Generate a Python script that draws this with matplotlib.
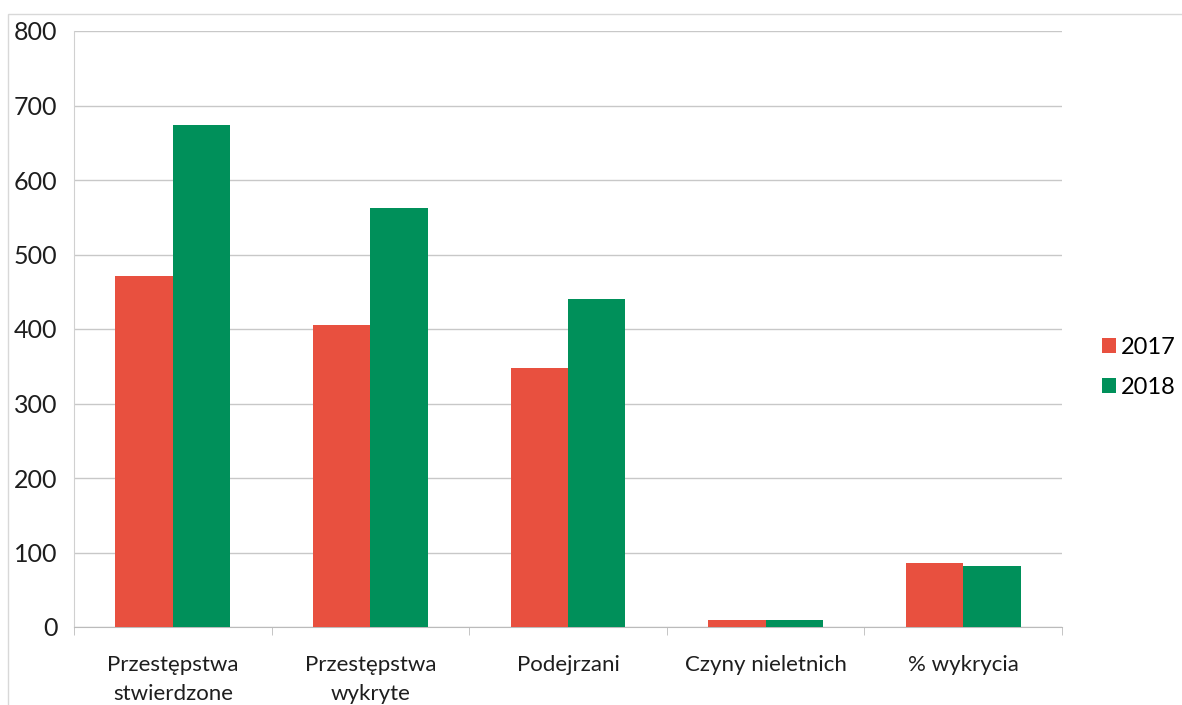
import numpy as np
import matplotlib.pyplot as plt

categories = ["Przestępstwa\nstwierdzone", "Przestępstwa\nwykryte", "Podejrzani",
              "Czyny nieletnich", "% wykrycia"]
values_2017 = [471, 405, 348, 10, 86]
values_2018 = [674, 562, 440, 9, 82]
series_names = ["2017", "2018"]
yticks = [0, 100, 200, 300, 400, 500, 600, 700, 800]

red = "#E8503F"
green = "#00905A"
txt = "#1e1e1e"

plt.rcParams['font.family'] = ['Lato', 'DejaVu Sans']

fig = plt.figure(figsize=(11.82, 7.05), dpi=100)
ax = fig.add_axes([74 / 1182, 1 - 627 / 705, (1062 - 74) / 1182, (627 - 31) / 705])

x = np.arange(len(categories))
w = 0.29
ax.bar(x - w / 2, values_2017, w, color=red, label=series_names[0], zorder=3)
ax.bar(x + w / 2, values_2018, w, color=green, label=series_names[1], zorder=3)

ax.set_xlim(-0.5, len(categories) - 0.5)
ax.set_ylim(0, 800)
ax.set_yticks(yticks)
ax.set_yticklabels([str(v) for v in yticks], fontsize=18, color=txt)
ax.yaxis.grid(True, color="#c8c8c8", linewidth=1, zorder=0)
ax.tick_params(axis='y', length=0, pad=12)

ax.set_xticks(x)
ax.set_xticklabels(categories, fontsize=16, color=txt, linespacing=1.6)
ax.tick_params(axis='x', length=0, pad=20)
# tick marks between categories
ax.set_xticks(np.arange(len(categories) + 1) - 0.5, minor=True)
ax.tick_params(axis='x', which='minor', length=6, color="#bbbbbb", direction='out')

for s in ['top', 'right']:
    ax.spines[s].set_visible(False)
ax.spines['left'].set_color("#d0d0d0")
ax.spines['bottom'].set_color("#bbbbbb")

leg = ax.legend(loc='center left', bbox_to_anchor=(1.019, 0.435), frameon=False,
                fontsize=17, handlelength=0.6, handleheight=0.6, handletextpad=0.2,
                labelspacing=0.8)

# outer chart border
fig.add_artist(plt.Rectangle((8 / 1182, -0.05), 1.2, 1 - 14 / 705 + 0.05,
                             transform=fig.transFigure, fill=False,
                             edgecolor="#d8d8d8", linewidth=1))

fig.savefig("out.png", dpi=100)
